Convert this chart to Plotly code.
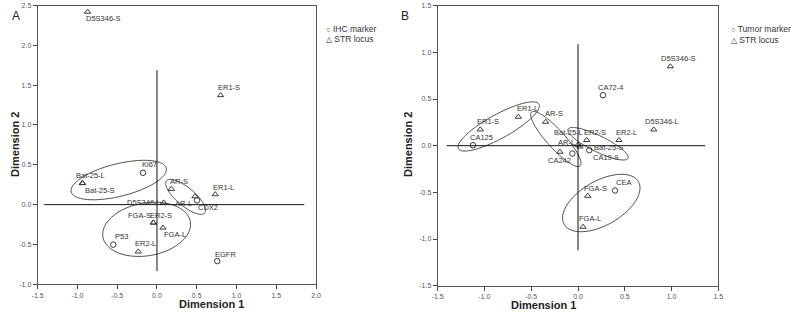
import numpy as np
import plotly.graph_objects as go

# ---------------- data: panel A ----------------
a_ihc_names = ["Ki67", "CDX2", "P53", "EGFR"]
a_ihc_x = [-0.176, 0.503, -0.55, 0.758]
a_ihc_y = [0.40, 0.054, -0.503, -0.709]

a_str_names = ["D5S346-S", "ER1-S", "Bat-25-L", "Bat-25-S", "AR-S", "AR-L",
               "ER1-L", "D5S346-L", "FGA-S", "ER2-S", "FGA-L", "ER2-L"]
a_str_x = [-0.872, 0.80, -0.94, -0.935, 0.18, 0.478, 0.733, 0.084, -0.046, -0.044, 0.075, -0.235]
a_str_y = [2.42, 1.373, 0.27, 0.268, 0.196, 0.104, 0.129, 0.025, -0.226, -0.228, -0.29, -0.59]

# ---------------- data: panel B ----------------
b_tm_names = ["CA72-4", "CA125", "CA242", "CA19-9", "CEA"]
b_tm_x = [0.267, -1.123, -0.061, 0.121, 0.396]
b_tm_y = [0.541, 0.005, -0.084, -0.048, -0.48]

b_str_names = ["D5S346-S", "D5S346-L", "ER2-L", "ER2-S", "ER1-L", "AR-S", "ER1-S",
               "AR-L", "Bat-25-L", "Bat-25-S", "FGA-S", "FGA-L"]
b_str_x = [0.987, 0.81, 0.438, 0.093, -0.638, -0.346, -1.045, -0.193, 0.0, 0.02, 0.104, 0.053]
b_str_y = [0.849, 0.173, 0.059, 0.059, 0.309, 0.255, 0.173, -0.066, 0.01, -0.01, -0.538, -0.87]

# tick values / labels
a_xticks = [-1.5, -1.0, -0.5, 0.0, 0.5, 1.0, 1.5, 2.0]
a_xtext = ["-1.5", "-1.0", "-0.5", "0.0", "0.5", "1.0", "1.5", "2.0"]
a_yticks = [-1.0, -0.5, 0.0, 0.5, 1.0, 1.5, 2.0, 2.5]
a_ytext = ["-1.0", "-0.5", "0.0", "0.5", "1.0", "1.5", "2.0", "2.5"]
b_ticks = [-1.5, -1.0, -0.5, 0.0, 0.5, 1.0, 1.5]
b_text = ["-1.5", "-1.0", "-0.5", "0.0", "0.5", "1.0", "1.5"]

# legend texts
a_legend = ["IHC marker", "STR locus"]
b_legend = ["Tumor marker", "STR locus"]

# ---------------- styling (label offsets in px) ----------------
a_ihc_off = [(7, 8), (11, -7), (8, 8), (8, 7)]
a_str_off = [(16, -7), (8, 8), (8, 8), (17, -7), (8, 8), (-11, -7),
             (8, 7), (-20, 0), (-14, 7), (8, 7), (12, -7), (7, 8)]
b_tm_off = [(8, 8), (9, 8), (-13, -7), (16, -7), (8, 8)]
b_str_off = [(8, 8), (8, 8), (8, 8), (8, 8), (9, 8), (8, 8), (8, 8),
             (7, 9), (-10, 12), (29, -1), (8, 7), (7, 8)]

# ellipses: (cx, cy, a, b, angle_deg) in data units
a_ellipses = [(-0.481, 0.309, 0.616, 0.204, 14),
              (0.361, 0.098, 0.314, 0.113, -40),
              (-0.13, -0.31, 0.558, 0.331, 10)]
b_ellipses = [(-0.848, 0.206, 0.492, 0.128, 29),
              (-0.237, 0.072, 0.388, 0.096, -48),
              (0.214, 0.021, 0.356, 0.086, -26),
              (0.249, -0.614, 0.458, 0.237, 30)]

W, H = 796, 319
FONT = "Liberation Sans, Arial, sans-serif"
MK = "#3a3a3a"
LBL = "#333333"

fig = go.Figure()

def add_pts(x, y, symbol, xa, ya):
    fig.add_trace(go.Scatter(x=x, y=y, mode="markers", xaxis=xa, yaxis=ya,
                             marker=dict(symbol=symbol, size=5.5, color=MK,
                                         line=dict(width=1, color=MK)),
                             hoverinfo="skip", showlegend=False, cliponaxis=False))

add_pts(a_ihc_x, a_ihc_y, "circle-open", "x", "y")
add_pts(a_str_x, a_str_y, "triangle-up-open", "x", "y")
add_pts(b_tm_x, b_tm_y, "circle-open", "x2", "y2")
add_pts(b_str_x, b_str_y, "triangle-up-open", "x2", "y2")

annotations = []

def add_labels(names, xs, ys, offs, xr, yr):
    for n, x, y, (dx, dy) in zip(names, xs, ys, offs):
        annotations.append(dict(x=x, y=y, xref=xr, yref=yr, text=n, showarrow=False,
                                xshift=dx, yshift=dy,
                                font=dict(size=7.5, color=LBL, family=FONT)))

add_labels(a_ihc_names, a_ihc_x, a_ihc_y, a_ihc_off, "x", "y")
add_labels(a_str_names, a_str_x, a_str_y, a_str_off, "x", "y")
add_labels(b_tm_names, b_tm_x, b_tm_y, b_tm_off, "x2", "y2")
add_labels(b_str_names, b_str_x, b_str_y, b_str_off, "x2", "y2")

shapes = []

def ellipse_path(cx, cy, a, b, ang):
    t = np.linspace(0, 2 * np.pi, 120)
    th = np.deg2rad(ang)
    ex = cx + a * np.cos(th) * np.cos(t) - b * np.sin(th) * np.sin(t)
    ey = cy + a * np.sin(th) * np.cos(t) + b * np.cos(th) * np.sin(t)
    p = "M " + " L ".join(f"{u:.4f},{v:.4f}" for u, v in zip(ex, ey)) + " Z"
    return p

for e in a_ellipses:
    shapes.append(dict(type="path", path=ellipse_path(*e), xref="x", yref="y",
                       line=dict(color="#222", width=0.8)))
for e in b_ellipses:
    shapes.append(dict(type="path", path=ellipse_path(*e), xref="x2", yref="y2",
                       line=dict(color="#222", width=0.8)))

# reference cross lines
shapes += [
    dict(type="line", xref="x", yref="y", x0=-1.418, x1=1.853, y0=0, y1=0, line=dict(color="#111", width=1)),
    dict(type="line", xref="x", yref="y", x0=0, x1=0, y0=-0.834, y1=1.687, line=dict(color="#111", width=1)),
    dict(type="line", xref="x2", yref="y2", x0=-1.404, x1=1.358, y0=0, y1=0, line=dict(color="#111", width=1)),
    dict(type="line", xref="x2", yref="y2", x0=0, x1=0, y0=-1.12, y1=1.088, line=dict(color="#111", width=1)),
]

def px(xp):
    return xp / W

def py(yp):
    return 1 - yp / H

# titles, panel letters, legends
title_font = dict(size=11, color="#222", family=FONT)
annotations += [
    dict(x=px(177), y=py(311.5), xref="paper", yref="paper", text="<b>Dimension 1</b>", showarrow=False, font=title_font),
    dict(x=px(578), y=py(312.5), xref="paper", yref="paper", text="<b>Dimension 1</b>", showarrow=False, font=title_font),
    dict(x=px(7), y=py(145), xref="paper", yref="paper", text="<b>Dimension 2</b>", showarrow=False, textangle=-90, font=title_font),
    dict(x=px(408), y=py(145), xref="paper", yref="paper", text="<b>Dimension 2</b>", showarrow=False, textangle=-90, font=title_font),
    dict(x=px(10), y=py(7), xref="paper", yref="paper", text="A", showarrow=False, font=dict(size=12, color="#222", family=FONT)),
    dict(x=px(405), y=py(7), xref="paper", yref="paper", text="B", showarrow=False, font=dict(size=12, color="#222", family=FONT)),
]
leg_font = dict(size=8.5, color="#333", family=FONT)
sym_c = "<span style='font-size:7.5px'>○</span> "
sym_t = "<span style='font-size:7.5px'>△</span> "
for txt, xl, yl in [(sym_c + a_legend[0], 323.5, 21.7), (sym_t + a_legend[1], 323.5, 32.3),
                    (sym_c + b_legend[0], 729, 22.3), (sym_t + b_legend[1], 729, 33.3)]:
    annotations.append(dict(x=px(xl), y=py(yl), xref="paper", yref="paper", text=txt,
                            showarrow=False, xanchor="left", font=leg_font))

axis_common = dict(showgrid=False, zeroline=False, showline=True, mirror=True,
                   linecolor="#555", linewidth=1, ticks="outside", ticklen=4,
                   tickcolor="#444", tickwidth=1, automargin=False,
                   tickfont=dict(size=7, color="#555", family=FONT))

fig.update_layout(
    width=W, height=H,
    margin=dict(l=0, r=0, t=0, b=0, pad=0, autoexpand=False),
    paper_bgcolor="white", plot_bgcolor="white",
    showlegend=False,
    xaxis=dict(domain=[px(37.7), px(316)], range=[-1.5, 2.0], tickvals=a_xticks, ticktext=a_xtext,
               anchor="y", **axis_common),
    yaxis=dict(domain=[py(284.3), py(5.5)], range=[-1.0, 2.5], tickvals=a_yticks, ticktext=a_ytext,
               anchor="x", **axis_common),
    xaxis2=dict(domain=[px(437.7), px(718.3)], range=[-1.5, 1.5], tickvals=b_ticks, ticktext=b_text,
                anchor="y2", **axis_common),
    yaxis2=dict(domain=[py(285.7), py(5.7)], range=[-1.5, 1.5], tickvals=b_ticks, ticktext=b_text,
                anchor="x2", **axis_common),
    shapes=shapes,
    annotations=annotations,
)

fig.write_html("out.html", config={"displayModeBar": False, "staticPlot": True},
               post_script="document.body.style.margin='0px';document.body.style.padding='0px';")
